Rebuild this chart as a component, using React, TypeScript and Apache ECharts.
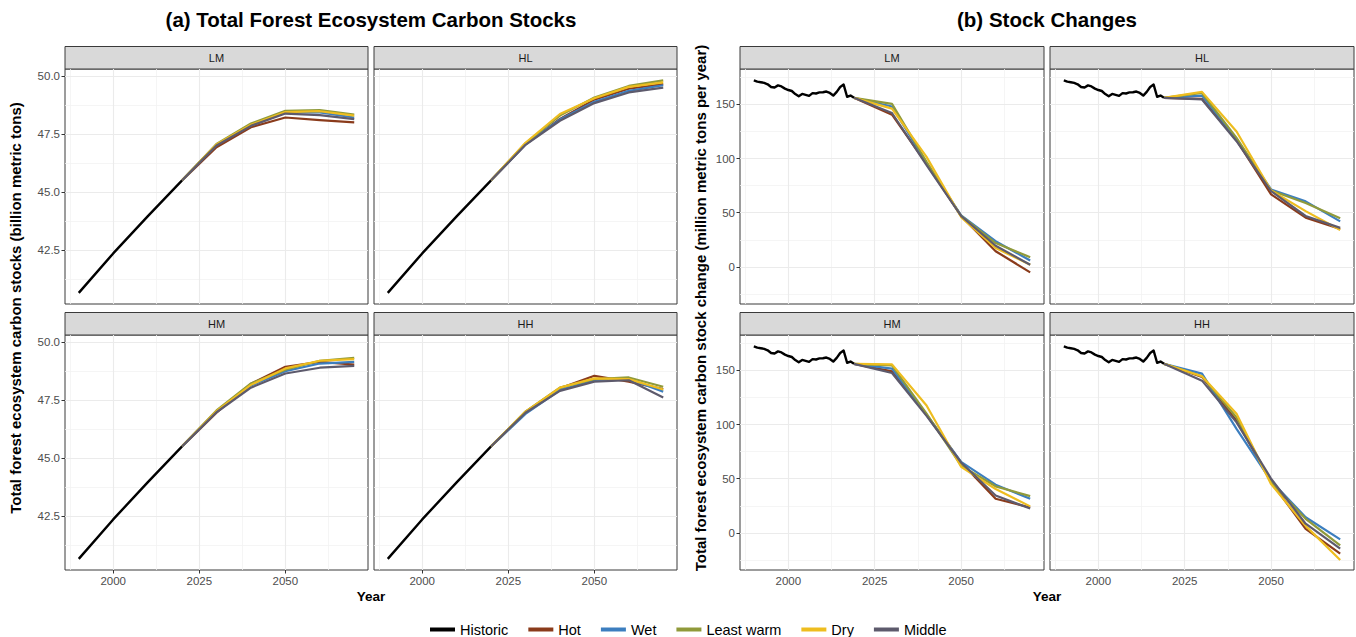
import React, { useEffect, useRef } from "react";
import * as echarts from "echarts";

// ---------- data ----------
const panels = ["LM", "HL", "HM", "HH"];
const scenarios = ["Hot", "Wet", "Least warm", "Dry", "Middle"];
const scenarioColors = ["#8A3B1B", "#3C7EBF", "#909A3A", "#EEBD1F", "#5D5A6C"];
const historicColor = "#000000";

// ticks
const yearTicks = [2000, 2025, 2050];
const yearMinorTicks = [1987.5, 2012.5, 2037.5, 2062.5];
const stockTicks = [42.5, 45, 47.5, 50];
const stockMinorTicks = [41.25, 43.75, 46.25, 48.75];
const changeTicks = [0, 50, 100, 150];
const changeMinorTicks = [-25, 25, 75, 125, 175];

// (a) total stocks (billion metric tons)
const stockHistYears = [1990, 2000, 2010, 2020];
const stockHistValues = [40.65, 42.35, 43.95, 45.5];
const stockScenYears = [2020, 2030, 2040, 2050, 2060, 2070];
// order: Hot, Wet, Least warm, Dry, Middle
const stockLM = [
  [45.5, 46.93, 47.79, 48.21, 48.1, 48.0],
  [45.5, 47.03, 47.87, 48.43, 48.43, 48.21],
  [45.5, 47.07, 47.95, 48.5, 48.53, 48.33],
  [45.5, 47.05, 47.9, 48.44, 48.48, 48.29],
  [45.5, 47.0, 47.85, 48.38, 48.31, 48.14],
];
const stockHL = [
  [45.5, 47.05, 48.15, 48.98, 49.45, 49.65],
  [45.5, 47.05, 48.12, 48.89, 49.36, 49.6],
  [45.5, 47.1, 48.29, 49.07, 49.57, 49.81],
  [45.5, 47.12, 48.36, 49.04, 49.53, 49.72],
  [45.5, 47.03, 48.07, 48.83, 49.29, 49.5],
];
const stockHM = [
  [45.5, 46.95, 48.2, 48.93, 49.14, 49.02],
  [45.5, 47.0, 48.12, 48.74, 49.07, 49.14],
  [45.5, 47.05, 48.21, 48.8, 49.19, 49.31],
  [45.5, 47.02, 48.15, 48.86, 49.19, 49.26],
  [45.5, 46.97, 48.03, 48.64, 48.89, 48.97],
];
const stockHH = [
  [45.5, 46.98, 48.0, 48.54, 48.29, 47.97],
  [45.5, 46.9, 47.93, 48.36, 48.4, 47.86],
  [45.5, 47.0, 48.03, 48.4, 48.47, 48.07],
  [45.5, 47.0, 48.03, 48.43, 48.4, 47.95],
  [45.5, 46.95, 47.89, 48.29, 48.35, 47.61],
];

// (b) stock changes (million metric tons per year)
const changeHistYears = [
  1990, 1991, 1992, 1993, 1994, 1995, 1996, 1997, 1998, 1999,
  2000, 2001, 2002, 2003, 2004, 2005, 2006, 2007, 2008, 2009,
  2010, 2011, 2012, 2013, 2014, 2015, 2016, 2017, 2018, 2019,
];
const changeHistValues = [
  172.2, 171.0, 170.4, 169.8, 168.5, 166.0, 165.5, 167.5, 166.5, 164.5,
  163.2, 162.3, 159.5, 157.5, 159.6, 158.8, 157.8, 160.3, 160.0, 161.0,
  161.2, 161.8, 160.5, 158.1, 161.5, 166.0, 168.2, 157.0, 158.1, 156.0,
];
const changeScenYears = [2019, 2030, 2040, 2050, 2060, 2070];
const changeLM = [
  [156, 140.5, 95, 47, 14.5, -5],
  [156, 148, 96, 47.5, 23.7, 6],
  [156, 150.5, 97, 47, 22, 9],
  [156, 146, 101.5, 46, 17.5, 2],
  [156, 142, 94, 47, 19.5, 2],
];
const changeHL = [
  [156, 155, 117, 67, 45.5, 35],
  [156, 158, 118, 71.5, 60.5, 42],
  [156, 160.5, 119, 70.5, 59, 45],
  [156, 161.5, 125, 70.5, 51.5, 34],
  [156, 154.5, 116, 70, 47, 36],
];
const changeHM = [
  [156, 149, 109, 65, 31.5, 23.5],
  [156, 151.5, 109, 65.5, 44.5, 31.5],
  [156, 154.5, 110, 62, 43, 34],
  [156, 155.5, 117.5, 61, 40.5, 24.5],
  [156, 147.5, 108, 65, 34.5, 22.5],
];
const changeHH = [
  [156, 144, 103.5, 47, 3.8, -19],
  [156, 147, 96, 48, 14.5, -6],
  [156, 144.5, 106.5, 46.8, 13, -11.5],
  [156, 144.5, 110, 45, 6.5, -25],
  [156, 140.5, 102, 50, 8.5, -14.5],
];

// ---------- layout ----------
const FONT = "'Liberation Sans', Arial, Helvetica, sans-serif";
const rowTop = [69, 335];
const plotH = 235;
const stripH = 22.5;

const groups = [
  {
    colX: [65, 374],
    w: 303,
    yMin: 40.17,
    yMax: 50.3,
    ticks: stockTicks,
    minor: stockMinorTicks,
    fmt: (v: number) => v.toFixed(1),
    histYears: stockHistYears,
    histValues: stockHistValues,
    scenYears: stockScenYears,
    data: [stockLM, stockHL, stockHM, stockHH],
    title: "(a) Total Forest Ecosystem Carbon Stocks",
    yTitle: "Total forest ecosystem carbon stocks (billion metric tons)",
    yTitleX: 15,
  },
  {
    colX: [740, 1050],
    w: 304,
    yMin: -34.2,
    yMax: 182.6,
    ticks: changeTicks,
    minor: changeMinorTicks,
    fmt: (v: number) => String(v),
    histYears: changeHistYears,
    histValues: changeHistValues,
    scenYears: changeScenYears,
    data: [changeLM, changeHL, changeHM, changeHH],
    title: "(b) Stock Changes",
    yTitle: "Total forest ecosystem carbon stock change (million metric tons per year)",
    yTitleX: 700,
  },
];

function buildOption() {
  const grid: any[] = [];
  const xAxis: any[] = [];
  const yAxis: any[] = [];
  const series: any[] = [];
  const graphic: any[] = [];

  groups.forEach((g) => {
    const centerX = (g.colX[0] + g.colX[1] + g.w) / 2;
    graphic.push({
      type: "text",
      x: centerX,
      y: 19,
      style: {
        text: g.title,
        font: `bold 20.5px ${FONT}`,
        fill: "#000",
        align: "center",
        verticalAlign: "middle",
        textAlign: "center",
        textVerticalAlign: "middle",
      },
    });
    graphic.push({
      type: "text",
      x: centerX,
      y: 596,
      style: {
        text: "Year",
        font: `bold 13.5px ${FONT}`,
        fill: "#000",
        align: "center",
        verticalAlign: "middle",
        textAlign: "center",
        textVerticalAlign: "middle",
      },
    });
    graphic.push({
      type: "text",
      x: g.yTitleX,
      y: 308,
      rotation: Math.PI / 2,
      style: {
        text: g.yTitle,
        font: `bold 15px ${FONT}`,
        fill: "#000",
        align: "center",
        verticalAlign: "middle",
        textAlign: "center",
        textVerticalAlign: "middle",
      },
    });

    panels.forEach((p, pi) => {
      const col = pi % 2;
      const row = Math.floor(pi / 2);
      const idx = grid.length;
      const left = g.colX[col];
      const top = rowTop[row];
      grid.push({
        left,
        top,
        width: g.w,
        height: plotH,
        show: true,
        borderColor: "#3a3a3a",
        borderWidth: 1,
        backgroundColor: "transparent",
        containLabel: false,
      });
      xAxis.push({
        gridIndex: idx,
        type: "value",
        min: 1986,
        max: 2074,
        axisLine: { show: false },
        splitLine: { show: false },
        axisTick: {
          show: row === 1,
          length: 3.5,
          lineStyle: { color: "#333" },
          customValues: yearTicks,
        },
        axisLabel: {
          show: row === 1,
          customValues: yearTicks,
          formatter: (v: number) => String(v),
          fontSize: 11.5,
          color: "#4D4D4D",
          fontFamily: FONT,
          margin: 5,
        },
      });
      yAxis.push({
        gridIndex: idx,
        type: "value",
        min: g.yMin,
        max: g.yMax,
        axisLine: { show: false },
        splitLine: { show: false },
        axisTick: {
          show: col === 0,
          length: 3.5,
          lineStyle: { color: "#333" },
          customValues: g.ticks,
        },
        axisLabel: {
          show: col === 0,
          customValues: g.ticks,
          formatter: (v: number) => g.fmt(v),
          fontSize: 11.5,
          color: "#4D4D4D",
          fontFamily: FONT,
          margin: 5,
        },
      });

      // strip
      graphic.push({
        type: "rect",
        shape: { x: left, y: top - stripH, width: g.w, height: stripH },
        style: { fill: "#D9D9D9", stroke: "#3a3a3a", lineWidth: 1 },
      });
      graphic.push({
        type: "text",
        x: left + g.w / 2,
        y: top - stripH / 2,
        style: {
          text: p,
          font: `11px ${FONT}`,
          fill: "#1A1A1A",
          align: "center",
          verticalAlign: "middle",
          textAlign: "center",
          textVerticalAlign: "middle",
        },
      });

      const majorStyle = { color: "#EBEBEB", width: 1.1, type: "solid" };
      const minorStyle = { color: "#F2F2F2", width: 0.8, type: "solid" };
      const markData = [
        ...yearMinorTicks.map((v) => ({ xAxis: v, lineStyle: minorStyle })),
        ...g.minor.map((v) => ({ yAxis: v, lineStyle: minorStyle })),
        ...yearTicks.map((v) => ({ xAxis: v, lineStyle: majorStyle })),
        ...g.ticks.map((v) => ({ yAxis: v, lineStyle: majorStyle })),
      ];

      series.push({
        type: "line",
        name: "Historic",
        xAxisIndex: idx,
        yAxisIndex: idx,
        data: g.histYears.map((y, i) => [y, g.histValues[i]]),
        showSymbol: false,
        symbol: "none",
        silent: true,
        z: 3,
        color: historicColor,
        itemStyle: { color: historicColor },
        lineStyle: { color: historicColor, width: 2.4, join: "round" },
        markLine: {
          silent: true,
          symbol: ["none", "none"],
          label: { show: false },
          emphasis: { disabled: true },
          animation: false,
          z: 1,
          data: markData,
        },
      });
      const panelData = g.data[pi];
      scenarios.forEach((s, si) => {
        series.push({
          type: "line",
          name: s,
          xAxisIndex: idx,
          yAxisIndex: idx,
          data: g.scenYears.map((y, i) => [y, panelData[si][i]]),
          showSymbol: false,
          symbol: "none",
          silent: true,
          z: 3,
          color: scenarioColors[si],
          itemStyle: { color: scenarioColors[si] },
          lineStyle: { color: scenarioColors[si], width: 2.2, join: "round" },
        });
      });
    });
  });

  return {
    animation: false,
    backgroundColor: "#ffffff",
    textStyle: { fontFamily: FONT },
    grid,
    xAxis,
    yAxis,
    series,
    graphic,
    legend: {
      data: ["Historic", ...scenarios],
      left: 425,
      top: 617,
      icon: "rect",
      itemWidth: 25,
      itemHeight: 4,
      itemGap: 20,
      selectedMode: false,
      textStyle: { fontSize: 14.5, color: "#000", fontFamily: FONT },
    },
  };
}

export default function App() {
  const ref = useRef<HTMLDivElement>(null);
  useEffect(() => {
    if (!ref.current) return;
    const chart = echarts.init(ref.current, undefined, { renderer: "svg" });
    chart.setOption(buildOption() as any);
    return () => chart.dispose();
  }, []);
  return (
    <div
      ref={ref}
      style={{
        position: "fixed",
        left: 0,
        top: 0,
        width: 1356,
        height: 637,
        background: "#fff",
      }}
    />
  );
}
